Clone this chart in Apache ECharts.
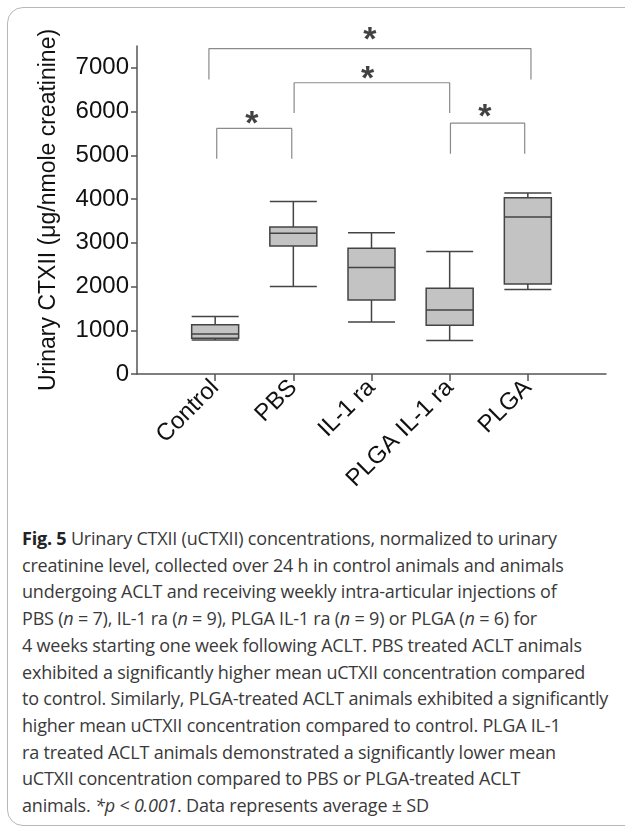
<!DOCTYPE html>
<html>
<head>
<meta charset="utf-8">
<script src="https://cdn.jsdelivr.net/npm/echarts@6/dist/echarts.min.js"></script>
<style>
  html, body { margin: 0; padding: 0; background: #fff; }
  body { width: 625px; height: 827px; position: relative; overflow: hidden; }
  #frame { position: absolute; left: 7px; top: 7px; width: 640px; height: 819px;
           border: 1.5px solid #b8b8b8; border-radius: 16px 0 0 16px; box-sizing: border-box; }
  #chart { position: absolute; left: 0; top: 0; width: 625px; height: 520px; }
  #caption { position: absolute; left: 22px; top: 525px; width: 600px;
             font-family: "Open Sans", sans-serif; font-size: 18px; line-height: 26.7px;
             color: #3a3a3a; white-space: nowrap; letter-spacing: -0.2px; }
  #caption b { font-weight: 700; color: #222; }
</style>
</head>
<body>
<div id="frame"></div>
<div id="chart"></div>
<div id="caption">
<b>Fig. 5</b> Urinary CTXII (uCTXII) concentrations, normalized to urinary<br>
creatinine level, collected over 24 h in control animals and animals<br>
undergoing ACLT and receiving weekly intra-articular injections of<br>
PBS (<i>n</i> = 7), IL-1 ra (<i>n</i> = 9), PLGA IL-1 ra (<i>n</i> = 9) or PLGA (<i>n</i> = 6) for<br>
4 weeks starting one week following ACLT. PBS treated ACLT animals<br>
exhibited a significantly higher mean uCTXII concentration compared<br>
to control. Similarly, PLGA-treated ACLT animals exhibited a significantly<br>
higher mean uCTXII concentration compared to control. PLGA IL-1<br>
ra treated ACLT animals demonstrated a significantly lower mean<br>
uCTXII concentration compared to PBS or PLGA-treated ACLT<br>
animals. <i>*p &lt; 0.001</i>. Data represents average ± SD
</div>
<script>
// ---- data ----
const categories = ['Control', 'PBS', 'IL-1 ra', 'PLGA IL-1 ra', 'PLGA'];
const whiskerMin = [780, 2000, 1190, 765, 1935];
const q1 = [820, 2925, 1690, 1115, 2060];
const medians = [915, 3220, 2435, 1465, 3590];
const q3 = [1125, 3360, 2875, 1960, 4030];
const whiskerMax = [1315, 3945, 3230, 2800, 4140];
const yTicks = [0, 1000, 2000, 3000, 4000, 5000, 6000, 7000];
// significance brackets (x in category positions, Control = 1)
const bracketX1 = [0.92, 2.01, 1.02, 4.01];
const bracketX2 = [5.04, 4.0, 1.98, 4.96];
const bracketTop = [7440, 6660, 5615, 5735];
const bracketBottom = [6735, 5970, 4920, 5035];
const starX = [2.98, 2.95, 1.47, 4.45];
const starY = [7800, 6925, 5895, 6045];
const starText = ['*', '*', '*', '*'];

// ---- build ----
const axisCats = [' '].concat(categories, ['  ']);
const boxSource = categories.map((c, i) => [c, whiskerMin[i], q1[i], medians[i], q3[i], whiskerMax[i]]);
const bracketPts = [];
bracketX1.forEach((x1, i) => {
  const x2 = bracketX2[i];
  bracketPts.push([x1, bracketBottom[i]], [x1, bracketTop[i]], [x2, bracketTop[i]], [x2, bracketBottom[i]], '-');
});
const stars = starX.map((x, i) => ({ value: [x, starY[i]], name: starText[i] }));

const FONT = 'Liberation Sans, Arial, sans-serif';
const chart = echarts.init(document.getElementById('chart'), null, { renderer: 'canvas' });
chart.setOption({
  animation: false,
  grid: { left: 137, right: 19, top: 46, height: 328 },
  dataset: { source: boxSource },
  xAxis: [{
    type: 'category', data: axisCats, boundaryGap: false,
    axisLine: { lineStyle: { color: '#555', width: 1.5 } },
    axisTick: { length: 7, interval: (idx) => idx >= 1 && idx <= categories.length,
                lineStyle: { color: '#555', width: 1.5 } },
    axisLabel: { interval: 0, rotate: 45, fontFamily: FONT, fontSize: 24, color: '#111', margin: 10 },
    splitLine: { show: false }
  }, {
    type: 'value', min: 0, max: axisCats.length - 1, show: false
  }],
  yAxis: {
    type: 'value', min: 0, max: 7500, interval: 1000,
    name: 'Urinary CTXII (μg/nmole creatinine)', nameLocation: 'middle', nameRotate: 90, nameGap: 77,
    nameTextStyle: { fontFamily: FONT, fontSize: 23, color: '#111' },
    axisLine: { show: true, lineStyle: { color: '#555', width: 1.5 } },
    axisTick: { show: true, length: 6, customValues: yTicks, lineStyle: { color: '#555', width: 1.5 } },
    axisLabel: { customValues: yTicks, formatter: (v) => String(v),
                 fontFamily: FONT, fontSize: 24, color: '#111', margin: 8 },
    splitLine: { show: false }
  },
  series: [{
    type: 'boxplot',
    encode: { x: 0, y: [1, 2, 3, 4, 5] },
    boxWidth: [47, 47],
    itemStyle: { color: '#c3c3c3', borderColor: '#444', borderWidth: 1.5 }
  }, {
    type: 'line', xAxisIndex: 1, data: bracketPts, symbol: 'none', connectNulls: false, clip: false,
    lineStyle: { color: '#8a8a8a', width: 1.2 }
  }, {
    type: 'scatter', xAxisIndex: 1, data: stars, symbolSize: 1, clip: false,
    itemStyle: { color: 'transparent' },
    label: { show: true, position: 'inside', formatter: (p) => p.name, fontFamily: FONT,
             fontSize: 34, fontWeight: 'bold', color: '#111', offset: [0, 8] }
  }]
});
</script>
</body>
</html>
